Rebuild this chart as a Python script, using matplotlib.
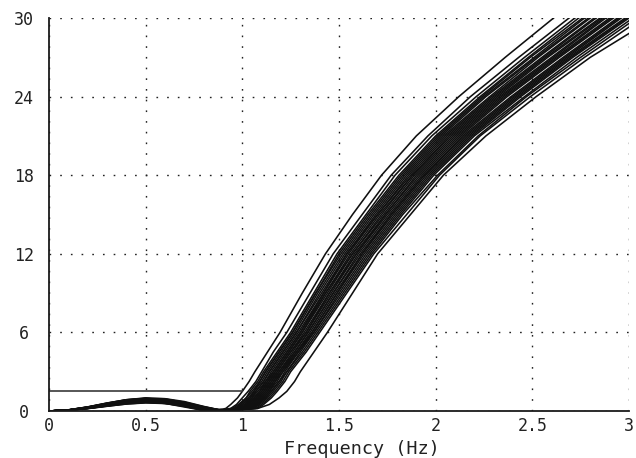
import matplotlib
matplotlib.use("Agg")
import matplotlib.pyplot as plt

# Passband: attenuation (dB) of each simulated response at these frequencies (Hz)
pass_freq = [0.0, 0.1, 0.2, 0.3, 0.4, 0.5, 0.6, 0.7, 0.8, 0.9]
pass_db = [
    [0, .08, .29, .56, .78, .85, .70, .37, .04, .14],
    [0, .08, .31, .60, .85, .95, .83, .50, .12, .04],
    [0, .07, .24, .46, .64, .70, .58, .31, .04, .12],
    [0, .07, .25, .49, .69, .78, .68, .41, .10, .04],
    [0, .08, .30, .59, .86, 1.0, .93, .64, .24, .00],
    [0, .08, .28, .55, .78, .88, .77, .47, .11, .04],
    [0, .06, .22, .43, .62, .72, .67, .46, .17, .00],
    [0, .06, .21, .41, .59, .66, .58, .35, .08, .03],
    [0, .07, .27, .53, .77, .90, .83, .58, .21, .00],
    [0, .06, .22, .45, .66, .79, .77, .58, .28, .03],
    [0, .07, .24, .47, .67, .75, .66, .40, .09, .04],
    [0, .07, .25, .50, .72, .84, .78, .54, .20, .00],
    [0, .07, .26, .52, .77, .92, .89, .68, .33, .03],
    [0, .06, .20, .40, .58, .68, .63, .44, .16, .00],
    [0, .09, .31, .61, .86, .97, .85, .51, .12, .05],
    [0, .05, .20, .39, .58, .69, .67, .51, .25, .02],
    [0, .06, .23, .46, .67, .78, .72, .50, .18, .00],
    [0, .06, .24, .48, .71, .85, .83, .63, .31, .03],
    [0, .07, .26, .51, .73, .82, .72, .43, .10, .04],
    [0, .08, .29, .56, .82, .95, .88, .61, .23, .00],
    [0, .05, .18, .36, .54, .64, .63, .48, .23, .02],
    [0, .05, .19, .37, .53, .62, .57, .40, .15, .00],
    [0, .06, .21, .42, .63, .75, .73, .56, .27, .03],
    [0, .07, .26, .52, .76, .88, .82, .56, .21, .00],
    [0, .07, .28, .55, .81, .96, .94, .72, .35, .03],
    [0, .06, .24, .47, .69, .80, .74, .51, .19, .00],
    [0, .05, .20, .40, .59, .71, .69, .53, .26, .02],
]

# Stopband: frequency (Hz) at which each response reaches these attenuation levels (dB)
stop_db = [0.2, 0.5, 1.0, 1.5, 2.25, 3, 4.5, 6, 9, 12, 15, 18, 21, 24, 27, 30, 33]
stop_freq = [
    [.915, .94, .975, 1.00, 1.035, 1.065, 1.13, 1.195, 1.31, 1.43, 1.57, 1.72, 1.90, 2.12, 2.36, 2.61, 2.86],
    [0.94, 0.97, 1.00, 1.03, 1.07, 1.10, 1.16, 1.23, 1.35, 1.47, 1.62, 1.77, 1.96, 2.18, 2.43, 2.69, 2.95],
    [0.95, 0.98, 1.02, 1.04, 1.08, 1.11, 1.18, 1.25, 1.37, 1.49, 1.64, 1.79, 1.98, 2.21, 2.46, 2.72, 2.98],
    [0.96, 0.99, 1.02, 1.05, 1.09, 1.12, 1.19, 1.26, 1.38, 1.50, 1.65, 1.81, 2.00, 2.23, 2.48, 2.74, 3.00],
    [0.97, 0.99, 1.03, 1.06, 1.09, 1.12, 1.19, 1.26, 1.38, 1.51, 1.66, 1.82, 2.01, 2.24, 2.49, 2.76, 3.02],
    [0.97, 1.00, 1.04, 1.06, 1.10, 1.13, 1.20, 1.27, 1.39, 1.52, 1.67, 1.83, 2.02, 2.25, 2.51, 2.77, 3.04],
    [0.98, 1.00, 1.04, 1.07, 1.11, 1.14, 1.21, 1.28, 1.40, 1.53, 1.68, 1.84, 2.03, 2.26, 2.52, 2.79, 3.05],
    [0.98, 1.01, 1.05, 1.07, 1.11, 1.14, 1.21, 1.28, 1.41, 1.54, 1.69, 1.85, 2.04, 2.28, 2.53, 2.80, 3.07],
    [0.99, 1.02, 1.05, 1.08, 1.12, 1.15, 1.22, 1.29, 1.42, 1.54, 1.70, 1.86, 2.05, 2.29, 2.55, 2.82, 3.09],
    [0.99, 1.02, 1.06, 1.09, 1.12, 1.16, 1.23, 1.30, 1.42, 1.55, 1.70, 1.87, 2.06, 2.30, 2.56, 2.83, 3.10],
    [1.00, 1.03, 1.06, 1.09, 1.13, 1.16, 1.23, 1.30, 1.43, 1.56, 1.71, 1.88, 2.07, 2.31, 2.57, 2.85, 3.12],
    [1.00, 1.03, 1.07, 1.10, 1.13, 1.17, 1.24, 1.31, 1.43, 1.57, 1.72, 1.88, 2.08, 2.32, 2.58, 2.86, 3.13],
    [1.01, 1.03, 1.07, 1.10, 1.14, 1.17, 1.24, 1.31, 1.44, 1.57, 1.73, 1.89, 2.09, 2.33, 2.60, 2.87, 3.15],
    [1.01, 1.04, 1.08, 1.11, 1.14, 1.18, 1.25, 1.32, 1.45, 1.58, 1.74, 1.90, 2.10, 2.34, 2.61, 2.88, 3.16],
    [1.02, 1.04, 1.08, 1.11, 1.15, 1.18, 1.25, 1.33, 1.45, 1.59, 1.74, 1.91, 2.11, 2.35, 2.62, 2.90, 3.18],
    [1.02, 1.05, 1.09, 1.12, 1.15, 1.19, 1.26, 1.33, 1.46, 1.59, 1.75, 1.92, 2.12, 2.36, 2.63, 2.91, 3.19],
    [1.02, 1.05, 1.09, 1.12, 1.16, 1.19, 1.27, 1.34, 1.47, 1.60, 1.76, 1.93, 2.13, 2.37, 2.64, 2.92, 3.20],
    [1.03, 1.06, 1.10, 1.13, 1.16, 1.20, 1.27, 1.34, 1.47, 1.61, 1.77, 1.94, 2.14, 2.39, 2.66, 2.94, 3.22],
    [1.03, 1.06, 1.10, 1.13, 1.17, 1.20, 1.28, 1.35, 1.48, 1.62, 1.77, 1.94, 2.15, 2.40, 2.67, 2.95, 3.23],
    [1.04, 1.07, 1.11, 1.14, 1.17, 1.21, 1.28, 1.36, 1.49, 1.62, 1.78, 1.95, 2.16, 2.41, 2.68, 2.96, 3.25],
    [1.04, 1.07, 1.11, 1.14, 1.18, 1.21, 1.29, 1.36, 1.49, 1.63, 1.79, 1.96, 2.17, 2.42, 2.69, 2.98, 3.26],
    [1.05, 1.08, 1.12, 1.15, 1.19, 1.22, 1.29, 1.37, 1.50, 1.64, 1.80, 1.97, 2.18, 2.43, 2.70, 2.99, 3.28],
    [1.05, 1.08, 1.12, 1.15, 1.19, 1.23, 1.30, 1.37, 1.51, 1.65, 1.81, 1.98, 2.19, 2.44, 2.71, 3.00, 3.29],
    [1.06, 1.09, 1.13, 1.16, 1.20, 1.23, 1.31, 1.38, 1.52, 1.66, 1.82, 1.99, 2.20, 2.46, 2.73, 3.02, 3.31],
    [1.07, 1.10, 1.14, 1.17, 1.21, 1.24, 1.32, 1.39, 1.53, 1.67, 1.83, 2.01, 2.22, 2.47, 2.75, 3.04, 3.34],
    [1.08, 1.11, 1.15, 1.18, 1.22, 1.25, 1.33, 1.40, 1.54, 1.68, 1.85, 2.02, 2.23, 2.49, 2.77, 3.07, 3.36],
    [1.08, 1.14, 1.19, 1.23, 1.27, 1.30, 1.37, 1.44, 1.57, 1.70, 1.87, 2.04, 2.26, 2.52, 2.80, 3.13, 3.45],
]

# Passband ripple specification line
spec_freq = [0.0, 1.0]
spec_db = [1.5, 1.5]

x_ticks = [0, 0.5, 1, 1.5, 2, 2.5, 3]
x_tick_labels = ["0", "0.5", "1", "1.5", "2", "2.5", "3"]
y_ticks = [0, 6, 12, 18, 24, 30]
y_tick_labels = ["0", "6", "12", "18", "24", "30"]

plt.rcParams["font.family"] = ["DejaVu Sans Mono"]

fig = plt.figure(figsize=(6.36, 4.58), dpi=100)
ax = fig.add_axes([49 / 636, 1 - 411 / 458, 580 / 636, 393 / 458])

for pdb, sf in zip(pass_db, stop_freq):
    ax.plot(pass_freq + sf, pdb + stop_db, color="#101010", lw=1.15,
            solid_joinstyle="round")

ax.plot(spec_freq, spec_db, color="#3a3a3a", lw=1.2)

ax.set_xlim(0, 3)
ax.set_ylim(0, 30)
ax.set_xticks(x_ticks)
ax.set_xticklabels(x_tick_labels)
ax.set_yticks(y_ticks)
ax.set_yticklabels(y_tick_labels, ha="center")
ax.tick_params(axis="both", length=0, labelsize=12, colors="#222222")
ax.tick_params(axis="y", pad=18)
ax.tick_params(axis="x", pad=4)

ax.grid(True, color="#222222", lw=1.0, linestyle=(0, (1.2, 6.5)))
ax.set_axisbelow(True)

for side in ("top", "right"):
    ax.spines[side].set_visible(False)
for side in ("left", "bottom"):
    ax.spines[side].set_color("#1a1a1a")
    ax.spines[side].set_linewidth(1.3)

ax.set_xlabel("Frequency (Hz)", fontsize=13.3, color="#222222")
ax.xaxis.set_label_coords(313 / 580, -29 / 393)

fig.savefig("out.png", dpi=100)
